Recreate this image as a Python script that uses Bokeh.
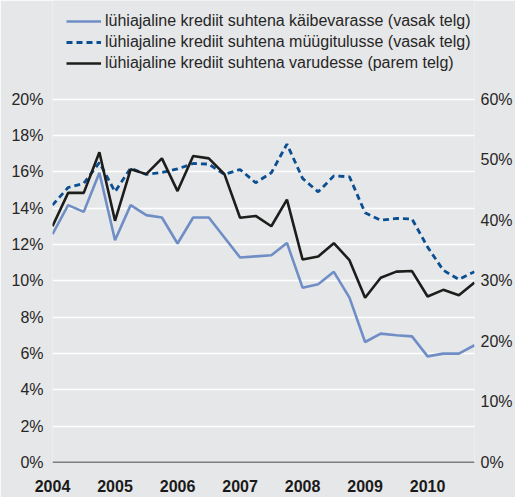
from bokeh.plotting import figure
from bokeh.models import (Range1d, LinearAxis, FixedTicker, PrintfTickFormatter,
                          Span, Legend, LegendItem)
from bokeh.embed import file_html
from bokeh.resources import INLINE

# quarterly observations 2004Q1 .. 2010Q4
years = [2004, 2005, 2006, 2007, 2008, 2009, 2010]
quarter_labels = [f"{y}Q{q}" for y in years for q in (1, 2, 3, 4)]

# short-term credit relative to current assets (left axis, %)
kaibevara = [12.56, 14.16, 13.79, 15.94, 12.23, 14.16, 13.61, 13.48,
             12.05, 13.48, 13.48, 12.38, 11.28, 11.34, 11.40, 12.08,
             9.62, 9.81, 10.49, 9.07, 6.63, 7.09, 7.00, 6.94,
             5.84, 5.99, 5.99, 6.45]
# short-term credit relative to sales revenue (left axis, %)
myygitulu = [14.16, 15.13, 15.36, 16.50, 14.90, 16.20, 15.85, 15.96,
             16.15, 16.45, 16.42, 15.85, 16.12, 15.39, 15.94, 17.52,
             15.63, 14.89, 15.77, 15.72, 13.74, 13.33, 13.43, 13.40,
             11.85, 10.58, 10.07, 10.50]
# short-term credit relative to inventories (right axis, %)
varud = [39.0, 44.5, 44.5, 51.2, 39.9, 48.4, 47.6, 50.2,
         44.8, 50.6, 50.2, 47.6, 40.4, 40.7, 39.0, 43.4,
         33.5, 34.0, 36.2, 33.4, 27.2, 30.5, 31.5, 31.6,
         27.4, 28.5, 27.6, 29.7]

left_ticks = [0, 2, 4, 6, 8, 10, 12, 14, 16, 18, 20]
right_ticks = [0, 10, 20, 30, 40, 50, 60]

legend_labels = [
    "lühiajaline krediit suhtena käibevarasse (vasak telg)",
    "lühiajaline krediit suhtena müügitulusse (vasak telg)",
    "lühiajaline krediit suhtena varudesse (parem telg)",
]

x = [years[0] + i / 4 for i in range(len(quarter_labels))]

BG = "#e6e7e8"
TXT = "#262626"
FONT = "Liberation Sans"

W, H = 515, 497
B_LEFT, B_RIGHT, B_BOTTOM = 52, 41, 35
frame_h = H - B_BOTTOM
top20_px = 98.5                     # where the 20% line sits, from the top
ymax = 20 * frame_h / (frame_h - top20_px)   # head-room above 20% holds the legend

p = figure(width=W, height=H, output_backend="svg", toolbar_location=None,
           x_range=Range1d(2004, 2010.75), y_range=Range1d(0, ymax),
           min_border_left=B_LEFT, min_border_right=B_RIGHT, min_border_top=0,
           min_border_bottom=B_BOTTOM)
p.background_fill_color = BG
p.border_fill_color = BG
p.outline_line_color = None
p.extra_y_ranges = {"right": Range1d(0, 3 * ymax)}

# grid
p.xgrid.grid_line_color = None
p.ygrid.grid_line_color = "white"
p.ygrid.grid_line_width = 1.5
p.ygrid.ticker = FixedTicker(ticks=left_ticks)


def style_axis(ax, standoff):
    ax.axis_line_color = None
    ax.major_tick_line_color = None
    ax.minor_tick_line_color = None
    ax.major_tick_out = 0
    ax.major_tick_in = 0
    ax.minor_tick_out = 0
    ax.major_label_text_font = FONT
    ax.major_label_text_font_size = "16px"
    ax.major_label_text_color = TXT
    ax.major_label_standoff = standoff


style_axis(p.yaxis[0], 9)
p.yaxis[0].ticker = FixedTicker(ticks=left_ticks)
p.yaxis[0].formatter = PrintfTickFormatter(format="%d%%")

style_axis(p.xaxis[0], 17)
p.xaxis[0].ticker = FixedTicker(ticks=years)
p.xaxis[0].formatter = PrintfTickFormatter(format="%d")
p.xaxis[0].major_label_text_font_style = "bold"
p.xaxis[0].major_label_text_color = "#1a1a1a"

ry = LinearAxis(y_range_name="right", ticker=FixedTicker(ticks=right_ticks),
                formatter=PrintfTickFormatter(format="%d%%"))
style_axis(ry, 6)
p.add_layout(ry, "right")

# baseline
p.add_layout(Span(location=0, dimension="width", line_color="#111111", line_width=1.5))

r1 = p.line(x, kaibevara, line_color="#6f8ec6", line_width=2.6)
r2 = p.line(x, myygitulu, line_color="#0b4f93", line_width=2.8, line_dash="6 4")
r3 = p.line(x, varud, line_color="#1d1d1b", line_width=2.6, y_range_name="right")

legend = Legend(items=[LegendItem(label=legend_labels[0], renderers=[r1]),
                       LegendItem(label=legend_labels[1], renderers=[r2]),
                       LegendItem(label=legend_labels[2], renderers=[r3])],
                location=(14, 389))
legend.background_fill_alpha = 0
legend.border_line_color = None
legend.padding = 0
legend.margin = 0
legend.spacing = 1
legend.glyph_width = 35
legend.glyph_height = 20
legend.label_height = 20
legend.label_standoff = 4
legend.label_text_font = FONT
legend.label_text_font_size = "16px"
legend.label_text_color = TXT
p.add_layout(legend, "center")

open("out.html", "w").write(file_html(p, INLINE))
